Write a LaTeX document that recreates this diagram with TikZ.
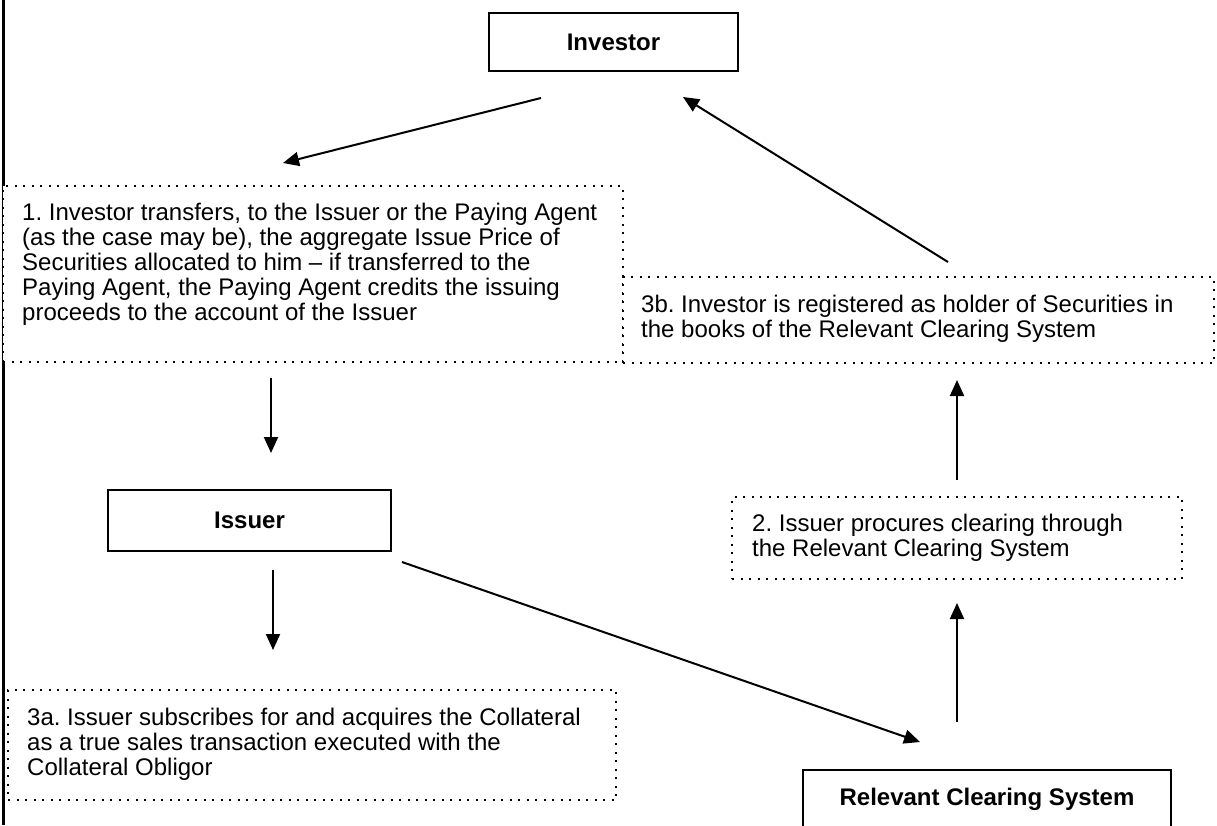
\documentclass[tikz,border=0pt]{standalone}
\usepackage{fontspec}
\setmainfont{Liberation Sans}
\usetikzlibrary{arrows.meta}
\frenchspacing
\begin{document}
\begin{tikzpicture}[x=1pt,y=-1pt,
  solidbox/.style={draw, fill=white, line width=2pt, inner sep=0pt, font=\bfseries\fontsize{24}{28}\selectfont},
  dotbox/.style={draw, fill=white, line width=2pt, dash pattern=on 2pt off 6.5pt, inner sep=0pt},
  txt/.style={inner sep=0pt, anchor=north west, align=left, font=\fontsize{24}{25}\selectfont},
  arr/.style={line width=2pt, -{Triangle[length=16pt,width=14pt]}},
  frameline/.style={line width=2.5pt}
]
\useasboundingbox (0,0) rectangle (1217,825);
\clip (0,0) rectangle (1217,825);

% left frame line
\coordinate (lt) at (3.5,0);
\coordinate (lb) at (3.5,825);
\draw[frameline] (lt) -- (lb);

% solid boxes
\node[solidbox, minimum width=249pt, minimum height=58pt] (inv) at (613.5,42) {Investor};
\node[solidbox, minimum width=283pt, minimum height=61pt] (iss) at (249.5,520.5) {Issuer};
\node[solidbox, minimum width=368pt, minimum height=58pt] (rcs) at (987,799) {Relevant Clearing System};

% dotted boxes
\node[dotbox, minimum width=620pt, minimum height=176pt] (b1) at (313,274) {};
\node[txt] (b1t) at (22,203) {1. Investor transfers, to the Issuer or the Paying Agent\\(as the case may be), the aggregate Issue Price of\\Securities allocated to him -- if transferred to the\\Paying Agent, the Paying Agent credits the issuing\\proceeds to the account of the Issuer};

\node[dotbox, minimum width=591pt, minimum height=86pt] (b3b) at (918.5,320) {};
\node[txt] (b3bt) at (641,295) {3b. Investor is registered as holder of Securities in\\the books of the Relevant Clearing System};

\node[dotbox, minimum width=450pt, minimum height=82pt] (b2) at (957,538) {};
\node[txt] (b2t) at (752,514) {2. Issuer procures clearing through\\the Relevant Clearing System};

\node[dotbox, minimum width=608pt, minimum height=110pt] (b3a) at (312,745) {};
\node[txt] (b3at) at (27,708) {3a. Issuer subscribes for and acquires the Collateral\\as a true sales transaction executed with the\\Collateral Obligor};

% connector end points
\coordinate (a1s) at (541,98);
\coordinate (a1e) at (283,163);
\coordinate (a3bs) at (948,262);
\coordinate (a3be) at (683,97);
\coordinate (d1s) at (271,378);
\coordinate (d1e) at (271,453);
\coordinate (d2s) at (273,570);
\coordinate (d2e) at (273,650);
\coordinate (dgs) at (402,562);
\coordinate (dge) at (920,742);
\coordinate (u1s) at (957,722);
\coordinate (u1e) at (957,603);
\coordinate (u2s) at (957,480);
\coordinate (u2e) at (957,380);

\draw[arr] (a1s) -- (a1e);
\draw[arr] (a3bs) -- (a3be);
\draw[arr] (d1s) -- (d1e);
\draw[arr] (d2s) -- (d2e);
\draw[arr] (dgs) -- (dge);
\draw[arr] (u1s) -- (u1e);
\draw[arr] (u2s) -- (u2e);
\end{tikzpicture}
\end{document}
